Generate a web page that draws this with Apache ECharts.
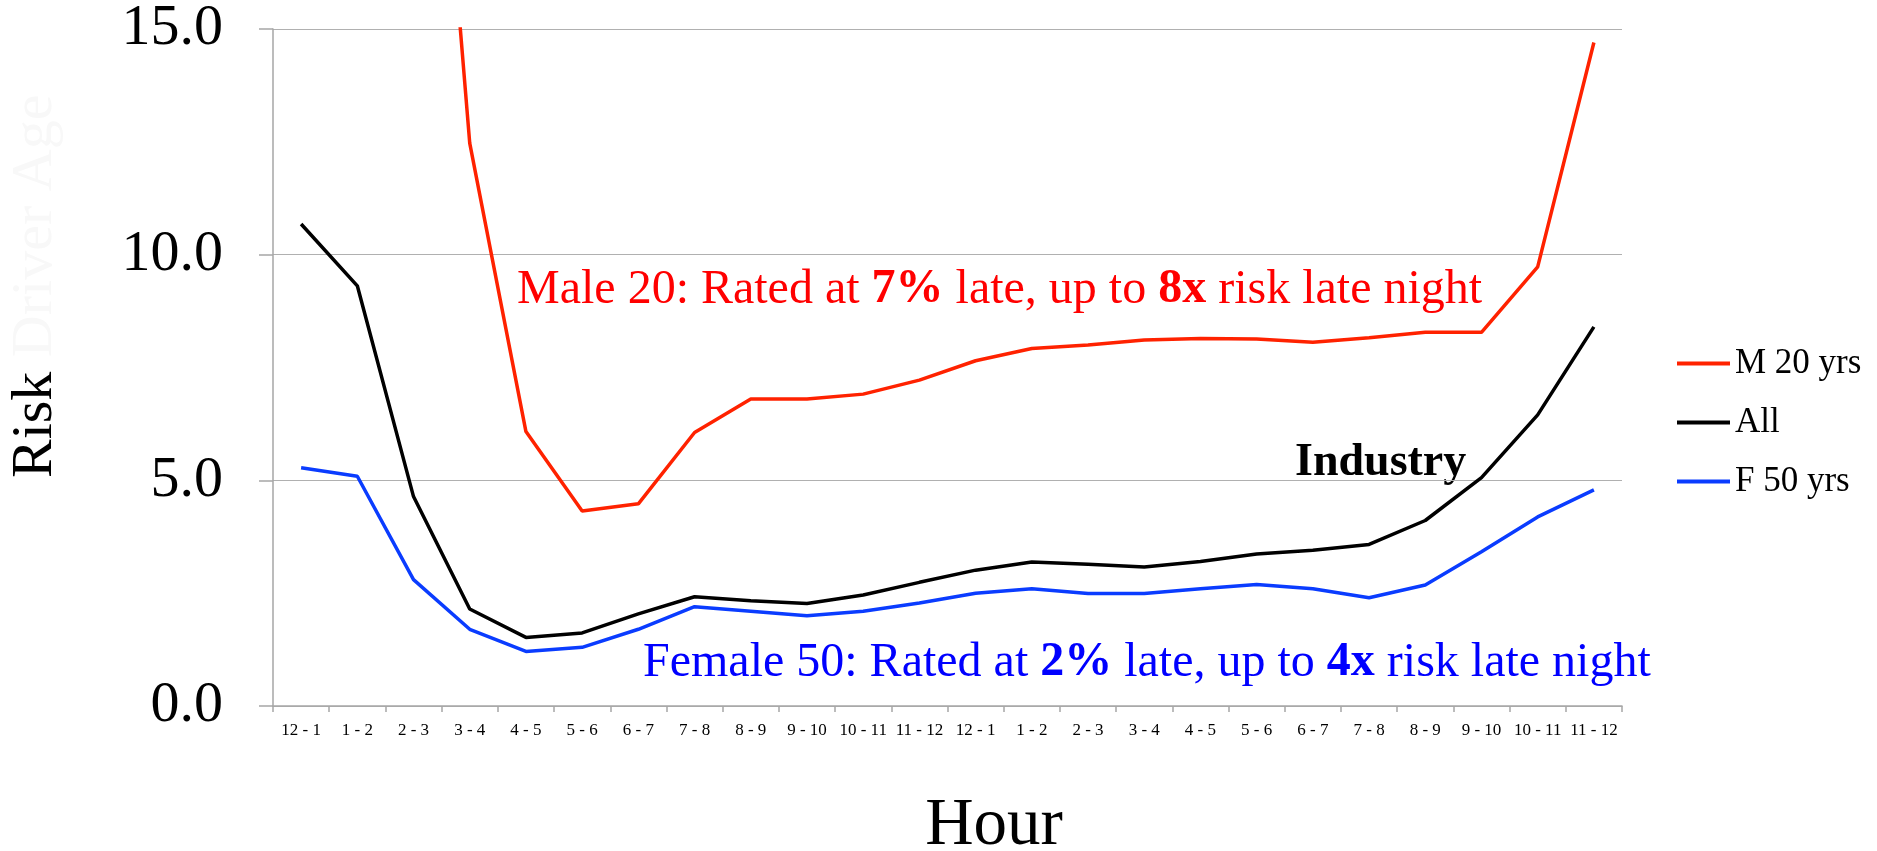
<!DOCTYPE html>
<html>
<head>
<meta charset="utf-8">
<script src="https://cdn.jsdelivr.net/npm/echarts@6/dist/echarts.min.js"></script>
<style>
html,body{margin:0;padding:0;background:#fff;}
#chart{width:1877px;height:851px;}
</style>
</head>
<body>
<div id="chart"></div>
<script>
const categories = ['12 - 1','1 - 2','2 - 3','3 - 4','4 - 5','5 - 6','6 - 7','7 - 8','8 - 9','9 - 10','10 - 11','11 - 12',
                    '12 - 1','1 - 2','2 - 3','3 - 4','4 - 5','5 - 6','6 - 7','7 - 8','8 - 9','9 - 10','10 - 11','11 - 12'];
const male20 = [20.0, 25.0, 27.6, 12.47, 6.08, 4.32, 4.48, 6.06, 6.80, 6.80, 6.91, 7.22,
                7.65, 7.92, 8.00, 8.11, 8.14, 8.13, 8.06, 8.16, 8.28, 8.28, 9.73, 14.70];
const allDrivers = [10.68, 9.31, 4.64, 2.15, 1.52, 1.62, 2.04, 2.42, 2.33, 2.27, 2.46, 2.74,
                    3.01, 3.19, 3.14, 3.08, 3.20, 3.37, 3.45, 3.58, 4.11, 5.06, 6.45, 8.40];
const female50 = [5.28, 5.09, 2.80, 1.70, 1.21, 1.30, 1.70, 2.20, 2.10, 2.00, 2.10, 2.28,
                  2.50, 2.60, 2.49, 2.49, 2.60, 2.69, 2.60, 2.40, 2.68, 3.42, 4.19, 4.79];
const seriesNames = ['M 20 yrs', 'All', 'F 50 yrs'];
const yTicks = [0, 5, 10, 15];

const FONT = '"Liberation Serif", "DejaVu Serif", serif';
const RED = '#ff2200', BLACK = '#000000', BLUE = '#0a3cff';

const chart = echarts.init(document.getElementById('chart'), null, {renderer: 'canvas'});
chart.setOption({
  backgroundColor: '#ffffff',
  animation: false,
  grid: {left: 273, right: 255, top: 21, bottom: 145, containLabel: false},
  legend: {
    data: seriesNames,
    orient: 'vertical',
    left: 1672,
    top: 341,
    icon: 'rect',
    itemWidth: 53,
    itemHeight: 4,
    itemGap: 24,
    textStyle: {fontFamily: FONT, fontSize: 35, color: '#000', padding: [0,0,0,0]},
    formatter: n => n
  },
  xAxis: {
    type: 'category',
    data: categories,
    boundaryGap: true,
    axisLine: {lineStyle: {color: '#a6a6a6', width: 1.5}},
    axisTick: {show: true, length: 6, lineStyle: {color: '#a6a6a6', width: 1.5}},
    axisLabel: {fontFamily: FONT, fontSize: 17, color: '#000', margin: 16, interval: 0}
  },
  yAxis: {
    type: 'value',
    min: yTicks[0],
    max: yTicks[yTicks.length - 1],
    interval: 5,
    axisLine: {show: true, lineStyle: {color: '#a6a6a6', width: 1.5}},
    axisTick: {show: true, length: 14, lineStyle: {color: '#a6a6a6', width: 1.5}},
    splitLine: {show: true, lineStyle: {color: '#b0b0b0', width: 1.2}},
    axisLabel: {fontFamily: FONT, fontSize: 58, color: '#000', margin: 50,
                formatter: v => v.toFixed(1)}
  },
  series: [
    {name: seriesNames[0], type: 'line', data: male20, symbol: 'none', clip: true,
     lineStyle: {color: RED, width: 3.5}, itemStyle: {color: RED}},
    {name: seriesNames[1], type: 'line', data: allDrivers, symbol: 'none', clip: true,
     lineStyle: {color: BLACK, width: 3.5}, itemStyle: {color: BLACK}},
    {name: seriesNames[2], type: 'line', data: female50, symbol: 'none', clip: true,
     lineStyle: {color: BLUE, width: 3.5}, itemStyle: {color: BLUE}}
  ],
  graphic: [
    {type: 'text', left: 517, top: 266, silent: true,
     style: {text: '{n|Male 20: Rated at }{b|7%}{n| late, up to }{b|8x}{n| risk late night}',
             rich: {n: {fontFamily: FONT, fontSize: 48, fill: '#ff0000'},
                    b: {fontFamily: FONT, fontSize: 48, fontWeight: 'bold', fill: '#ff0000'}}}},
    {type: 'text', left: 643, top: 639, silent: true,
     style: {text: '{n|Female 50: Rated at }{b|2%}{n| late, up to }{b|4x}{n| risk late night}',
             rich: {n: {fontFamily: FONT, fontSize: 48, fill: '#0000ff'},
                    b: {fontFamily: FONT, fontSize: 48, fontWeight: 'bold', fill: '#0000ff'}}}},
    {type: 'text', left: 1295, top: 440, silent: true,
     style: {text: 'Industry', fontFamily: FONT, fontSize: 46, fontWeight: 'bold', fill: '#000'}},
    {type: 'text', x: 994, y: 826, silent: true,
     style: {text: 'Hour', fontFamily: FONT, fontSize: 67, fill: '#000', align: 'center', verticalAlign: 'middle'}},
    {type: 'text', x: 36, y: 478, rotation: Math.PI / 2, silent: true,
     style: {text: '{a|Risk}{f| Driver Age}', align: 'left', verticalAlign: 'middle',
             rich: {a: {fontFamily: FONT, fontSize: 58, fill: '#000'},
                    f: {fontFamily: FONT, fontSize: 58, fill: '#f8f8f8'}}}}
  ]
});
</script>
</body>
</html>
